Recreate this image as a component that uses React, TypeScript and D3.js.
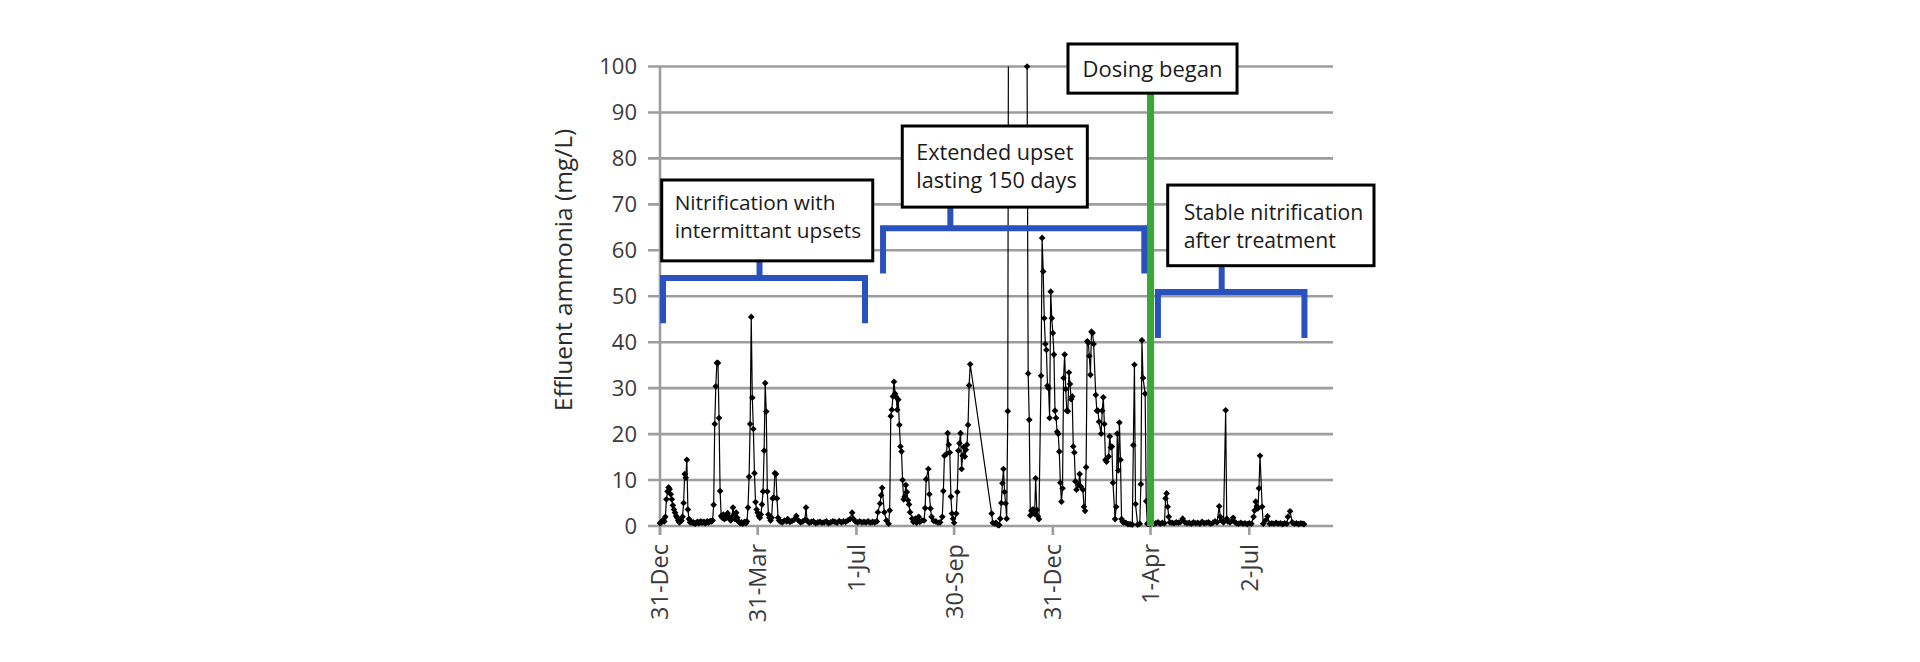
import React from 'react';
import * as d3 from 'd3';

// days counted from 31-Dec of the first year
const tickDays = [0, 91, 183, 274, 366, 457, 549];
const tickLabels = ['31-Dec', '31-Mar', '1-Jul', '30-Sep', '31-Dec', '1-Apr', '2-Jul'];
const yTicks = [0, 10, 20, 30, 40, 50, 60, 70, 80, 90, 100];
const dosingDay = 457;

// [day, effluent ammonia mg/L]
const readings: [number, number][] = [
  [0, 0.6], [1, 0.8], [2, 1.0], [3, 1.3], [4, 1.0], [5, 2.0], [6, 5.8], [7, 7.5], [8, 8.4], [9, 8.0],
  [10, 6.9], [11, 5.8], [12, 4.5], [13, 3.6], [14, 2.9], [15, 2.2], [16, 1.8], [17, 1.2], [18, 0.8], [19, 1.0],
  [20, 1.2], [21, 2.0], [22, 5.0], [23, 11.3], [24, 10.5], [25, 14.4], [26, 3.6], [27, 1.5], [28, 0.8],
  [29, 0.9], [30, 0.7], [31, 0.8], [32, 0.6], [33, 0.5], [34, 0.7], [35, 0.9], [36, 0.6], [37, 0.8], [38, 1.0],
  [39, 0.7], [40, 0.8], [41, 0.9], [42, 0.6], [43, 0.7], [44, 1.0], [45, 0.8], [46, 0.9], [47, 1.1], [48, 1.0],
  [49, 1.2], [50, 4.6], [51, 22.2], [52, 30.4], [53, 35.5], [54, 35.5], [55, 23.5], [56, 7.6], [57, 2.2], [58, 1.8],
  [59, 2.5], [60, 1.5], [61, 2.2], [62, 1.8], [63, 2.8], [64, 2.0], [65, 1.5], [66, 1.2], [67, 2.0], [68, 4.0],
  [69, 2.5], [70, 1.5], [71, 2.9], [72, 1.8], [73, 1.0], [74, 0.8], [75, 0.6], [76, 0.8], [77, 0.5], [78, 0.7],
  [79, 0.9], [80, 0.6], [81, 1.0], [82, 4.0], [83, 10.7], [84, 22.2], [85, 45.5], [86, 27.9], [87, 21.1], [88, 11.5],
  [89, 5.2], [90, 3.6], [91, 2.9], [92, 2.2], [93, 1.8], [94, 2.5], [95, 4.7], [96, 7.5], [97, 16.4], [98, 31.1],
  [99, 24.9], [100, 7.5], [101, 2.5], [102, 1.8], [103, 1.2], [104, 1.8], [105, 6.0], [106, 6.2], [107, 11.5], [108, 11.3],
  [109, 6.0], [110, 1.8], [111, 1.2], [112, 1.0], [114, 0.8], [116, 1.2], [118, 1.0], [119, 1.5], [121, 0.9], [123, 1.1],
  [125, 1.4], [127, 2.2], [129, 1.2], [131, 0.8], [133, 1.0], [135, 1.3], [136, 4.0], [137, 1.2], [139, 0.7], [141, 0.9],
  [143, 1.0], [145, 0.6], [147, 0.8], [149, 0.9], [151, 0.7], [153, 0.8], [155, 1.0], [157, 0.6], [159, 0.8], [161, 1.0],
  [163, 0.9], [165, 0.7], [167, 1.1], [169, 0.8], [171, 1.0], [173, 0.9], [175, 1.2], [177, 1.5], [179, 2.9], [180, 1.6],
  [182, 1.0], [184, 0.8], [186, 1.0], [188, 0.8], [190, 0.9], [192, 0.8], [194, 1.0], [196, 0.7], [198, 0.9], [200, 0.8],
  [202, 1.0], [203, 3.0], [205, 4.9], [206, 6.7], [207, 8.3], [209, 3.0], [211, 1.2], [213, 0.5], [214, 3.4], [215, 23.9],
  [216, 25.3], [217, 28.2], [218, 31.4], [219, 28.8], [220, 28.1], [221, 25.3], [222, 27.5], [223, 22.0], [224, 17.3], [225, 16.2],
  [226, 10.0], [227, 5.8], [228, 6.4], [229, 8.9], [230, 7.4], [231, 5.6], [232, 4.7], [233, 3.0], [235, 1.6], [236, 0.9],
  [238, 1.6], [239, 0.7], [241, 2.0], [242, 0.9], [244, 1.2], [246, 1.2], [247, 3.9], [248, 10.2], [250, 12.4], [251, 6.9],
  [252, 3.8], [253, 2.0], [255, 1.1], [257, 1.0], [259, 0.7], [261, 0.8], [263, 2.0], [264, 7.6], [265, 15.3], [267, 15.7],
  [268, 20.2], [269, 17.7], [270, 16.0], [271, 6.4], [272, 2.7], [273, 1.6], [274, 0.7], [276, 2.7], [277, 7.4], [278, 16.4],
  [279, 18.0], [280, 20.2], [281, 12.4], [282, 15.3], [283, 17.2], [284, 15.1], [285, 16.6], [286, 17.7], [287, 22.0], [288, 30.6],
  [289, 35.2], [309, 2.7], [310, 0.7], [312, 0.5], [313, 0.7], [315, 0.2], [316, 0.2], [317, 1.6], [318, 5.0], [319, 9.3],
  [320, 12.4], [321, 7.4], [322, 4.9], [323, 1.6], [324, 25.0], [325, 160], [342, 100], [343, 33.2], [344, 23.1], [345, 2.3],
  [346, 3.3], [347, 3.6], [348, 3.5], [349, 2.6], [350, 10.4], [351, 3.5], [352, 2.1], [353, 1.5], [355, 32.7], [356, 62.7],
  [357, 55.4], [358, 45.2], [359, 39.6], [360, 38.3], [361, 30.5], [362, 30.0], [363, 23.5], [364, 51.0], [365, 45.2], [366, 42.0],
  [367, 37.3], [368, 25.1], [369, 23.5], [370, 20.5], [371, 20.1], [372, 16.2], [373, 9.4], [374, 5.3], [375, 8.2], [376, 32.2],
  [377, 37.3], [378, 29.8], [379, 25.1], [380, 25.0], [381, 33.4], [382, 30.9], [383, 27.6], [384, 28.2], [385, 17.3], [386, 16.0],
  [387, 9.7], [388, 7.9], [390, 9.0], [391, 11.3], [392, 8.6], [394, 7.9], [395, 4.2], [396, 3.3], [397, 12.8], [398, 40.2],
  [399, 39.9], [400, 37.0], [401, 32.9], [402, 42.3], [403, 42.0], [404, 39.6], [406, 28.5], [407, 25.1], [408, 25.1], [409, 22.7],
  [411, 20.1], [412, 25.1], [413, 28.0], [414, 22.2], [415, 14.4], [416, 14.0], [418, 15.1], [419, 19.5], [420, 17.1], [421, 17.3],
  [422, 9.4], [424, 1.5], [425, 4.2], [426, 20.1], [427, 12.1], [428, 22.5], [429, 14.4], [430, 1.5], [431, 0.9], [432, 0.8],
  [434, 0.7], [436, 0.4], [438, 0.4], [440, 0.3], [441, 17.6], [442, 35.1], [443, 4.8], [445, 0.3], [447, 0.5], [448, 9.1],
  [449, 40.4], [450, 32.2], [452, 28.8], [453, 5.4], [454, 0.5], [455, 0.5], [456, 0.6], [457, 0.5], [458, 0.7], [460, 0.5],
  [462, 0.6], [464, 0.8], [466, 0.5], [468, 0.7], [470, 0.6], [471, 6.0], [472, 7.1], [473, 4.2], [474, 2.0], [475, 0.8],
  [477, 0.7], [479, 0.6], [481, 0.8], [483, 0.7], [485, 0.9], [487, 1.6], [489, 0.8], [491, 0.6], [493, 0.7], [495, 0.5],
  [497, 0.8], [499, 0.6], [501, 0.7], [503, 0.5], [505, 0.9], [507, 0.6], [509, 0.7], [511, 0.8], [513, 0.5], [515, 0.7],
  [517, 1.0], [519, 0.8], [521, 4.3], [522, 2.0], [523, 1.2], [525, 0.8], [527, 25.2], [528, 1.6], [529, 1.0], [531, 0.8],
  [533, 1.2], [534, 1.8], [535, 1.0], [537, 0.6], [539, 0.5], [541, 0.7], [543, 0.5], [545, 0.6], [547, 0.4], [549, 0.6],
  [551, 0.5], [553, 2.0], [554, 3.4], [555, 5.3], [556, 4.3], [557, 3.8], [558, 8.2], [559, 15.3], [561, 4.2], [562, 0.5],
  [564, 1.2], [566, 2.1], [568, 0.5], [570, 0.6], [572, 0.5], [574, 0.7], [576, 0.5], [578, 0.6], [580, 0.4], [582, 0.6],
  [584, 0.5], [585, 2.0], [587, 3.2], [589, 0.8], [591, 0.5], [593, 0.6], [595, 0.4], [597, 0.6], [599, 0.5], [600, 0.4],
];

const noteLines = [
  ['Nitrification with', 'intermittant upsets'],
  ['Extended upset', 'lasting 150 days'],
  ['Stable nitrification', 'after treatment'],
];
const dosingLabel = 'Dosing began';

const FONT = '"Open Sans", "Noto Sans", sans-serif';
const GRID = '#9d9d9d';
const BLUE = '#2a52be';
const GREEN = '#38a935';

export default function App() {
  const x = d3.scaleLinear().domain([0, 627]).range([660, 1333]);
  const y = d3.scaleLinear().domain([0, 100]).range([526, 66.5]);

  const line = d3.line<[number, number]>()
    .x(d => x(d[0]))
    .y(d => y(d[1]));

  const marker = d3.symbol().type(d3.symbolSquare).size(22)();

  // annotation boxes in chart units: day range, value top / bottom
  const boxes = [
    { lines: noteLines[0], d0: 1.6, d1: 198.2, vt: 75.3, vb: 57.7, pad: 13, base: 30, fs: 20.8 },
    { lines: noteLines[1], d0: 225.7, d1: 398.1, vt: 87.05, vb: 69.4, pad: 14, base: 34, fs: 21.6 },
    { lines: noteLines[2], d0: 473.0, d1: 665.2, vt: 74.2, vb: 56.65, pad: 16, base: 35, fs: 21.2 },
  ];
  const brackets = [
    { l: 2.8, r: 191.0, s: 92.7, bar: 53.97, foot: 44.1, top: 57.7 },
    { l: 207.8, r: 451.2, s: 270.5, bar: 64.8, foot: 54.95, top: 69.4 },
    { l: 463.9, r: 600.4, s: 523.3, bar: 50.9, foot: 40.9, top: 56.65 },
  ];
  const dosingBox = { d0: 380.1, d1: 537.6, vt: 104.9, vb: 94.2 };

  return (
    <svg width={1920} height={662} style={{ position: 'absolute', left: 0, top: 0, background: '#fff' }}
      fontFamily={FONT}>
      <defs>
        <clipPath id="plot">
          <rect x={x(0)} y={y(100)} width={x(627) - x(0)} height={y(0) - y(100)} />
        </clipPath>
      </defs>

      {yTicks.map(t => (
        <g key={t}>
          <line x1={648} x2={x(627)} y1={y(t)} y2={y(t)} stroke={GRID} strokeWidth={2.6} />
          <text x={637} y={y(t)} dy="0.36em" textAnchor="end" fontSize={22} fill="#3a3a3a">{t}</text>
        </g>
      ))}
      <line x1={x(0)} x2={x(0)} y1={y(100)} y2={y(0) + 9} stroke={GRID} strokeWidth={2.6} />
      {tickDays.map((d, i) => (
        <g key={i}>
          <line x1={x(d)} x2={x(d)} y1={y(0)} y2={y(0) + 9} stroke={GRID} strokeWidth={2.6} />
          <text transform={`translate(${x(d)},${y(0) + 18}) rotate(-90)`} dy="0.36em" textAnchor="end"
            fontSize={23.5} fill="#3a3a3a">{tickLabels[i]}</text>
        </g>
      ))}
      <text transform={`translate(563,270) rotate(-90)`} dy="0.36em" textAnchor="middle" fontSize={24.5}
        fill="#2a2a2a">Effluent ammonia (mg/L)</text>

      <path d={line(readings) || ''} fill="none" stroke="#000" strokeWidth={1.2} clipPath="url(#plot)" />
      {readings.filter(d => d[1] <= 100).map((d, i) => (
        <path key={i} d={marker} transform={`translate(${x(d[0])},${y(d[1])}) rotate(45)`} fill="#000" />
      ))}

      <line x1={x(dosingDay)} x2={x(dosingDay)} y1={y(dosingBox.vb)} y2={y(0)} stroke={GREEN} strokeWidth={7} />

      {brackets.map((b, i) => (
        <g key={i} fill="none" stroke={BLUE} strokeWidth={6}>
          <path d={`M${x(b.l)},${y(b.foot)}V${y(b.bar)}H${x(b.r)}V${y(b.foot)}`} strokeLinejoin="miter" />
          <path d={`M${x(b.s)},${y(b.bar)}V${y(b.top)}`} />
        </g>
      ))}

      {boxes.map((b, i) => (
        <g key={i}>
          <rect x={x(b.d0)} y={y(b.vt)} width={x(b.d1) - x(b.d0)} height={y(b.vb) - y(b.vt)}
            fill="#fff" stroke="#000" strokeWidth={3} />
          {b.lines.map((s, j) => (
            <text key={j} x={x(b.d0) + b.pad} y={y(b.vt) + b.base + j * 28} fontSize={b.fs} fill="#1a1a1a">{s}</text>
          ))}
        </g>
      ))}

      <rect x={x(dosingBox.d0)} y={y(dosingBox.vt)} width={x(dosingBox.d1) - x(dosingBox.d0)}
        height={y(dosingBox.vb) - y(dosingBox.vt)} fill="#fff" stroke="#000" strokeWidth={3} />
      <text x={(x(dosingBox.d0) + x(dosingBox.d1)) / 2} y={y(dosingBox.vt) + 33} textAnchor="middle"
        fontSize={22} fill="#1a1a1a">{dosingLabel}</text>
    </svg>
  );
}
